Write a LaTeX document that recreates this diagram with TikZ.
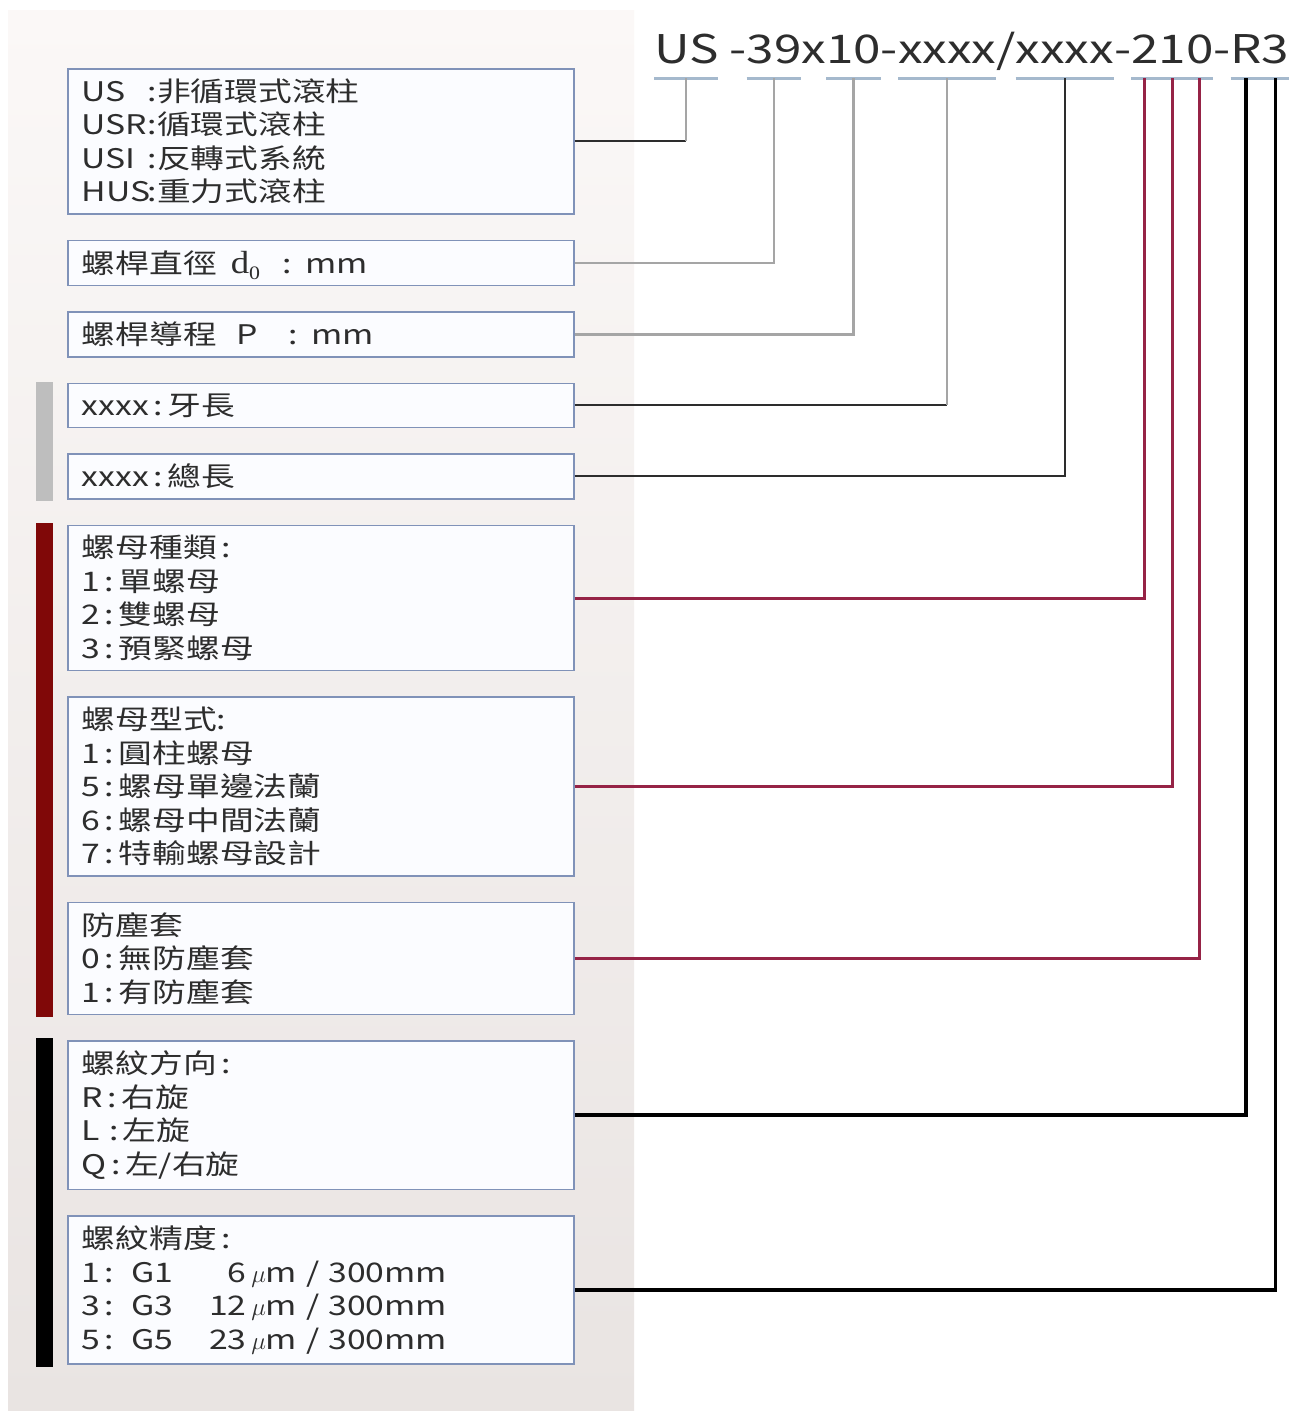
\documentclass[tikz,border=0pt]{standalone}
\usepackage[no-math]{fontspec}
\setmainfont[FakeStretch=1.25]{Noto Sans CJK TC}
\newfontfamily\serifd[FakeStretch=1.15]{Liberation Serif}
\usepackage{tikz}
\usetikzlibrary{positioning,calc}
\definecolor{BoxBlue}{RGB}{128,146,184}
\definecolor{BoxFill}{RGB}{251,252,255}
\definecolor{TextGray}{RGB}{45,45,45}
\definecolor{LineGray}{RGB}{165,165,165}
\definecolor{LineDark}{RGB}{45,45,45}
\definecolor{LineRed}{RGB}{150,35,70}
\definecolor{TickBlue}{RGB}{165,185,205}
\definecolor{BarGray}{RGB}{190,190,190}
\definecolor{BarRed}{RGB}{128,8,8}
\definecolor{PanelTop}{RGB}{251,248,247}
\definecolor{PanelBot}{RGB}{233,228,226}
\tikzset{
  box/.style={draw=BoxBlue,fill=BoxFill,line width=1.5pt,text width=478pt,inner xsep=14pt,inner ysep=10pt,align=left,text=TextGray,font=\fontsize{27}{33.5}\selectfont},
  code/.style={anchor=base west,inner sep=0pt,outer sep=0pt,text=TextGray,font=\fontsize{39.5}{45}\selectfont},
  tick/.style={draw=TickBlue,line width=3pt},
  gconn/.style={draw=LineGray,line width=2.5pt},
  dconn/.style={draw=LineDark,line width=2pt},
  rconn/.style={draw=LineRed,line width=3pt},
  kconn/.style={draw=black,line width=3.5pt},
}
\newcommand{\lab}[1]{\makebox[66pt][l]{#1}}

\begin{document}
\begin{tikzpicture}[x=1pt,y=-1pt,node distance=25pt]
  \fill[white] (0,0) rectangle (1288,1411);
  \useasboundingbox (0,0) rectangle (1288,1411);
  \shade[top color=PanelTop,bottom color=PanelBot] (8,10) rectangle (634,1411);

  % code line
  \node[code] (cUS) at (654,63) {US};
  \node[code] (k1) at (cUS.base east) {\ -};
  \node[code] (c39) at (k1.base east) {39};
  \node[code] (k2) at (c39.base east) {x};
  \node[code] (c10) at (k2.base east) {10};
  \node[code] (k3) at (c10.base east) {-};
  \node[code] (cTL) at (k3.base east) {xxxx};
  \node[code] (k4) at (cTL.base east) {/};
  \node[code] (cOL) at (k4.base east) {xxxx};
  \node[code] (k5) at (cOL.base east) {-};
  \node[code] (cNT) at (k5.base east) {2};
  \node[code] (cNF) at (cNT.base east) {1};
  \node[code] (cDC) at (cNF.base east) {0};
  \node[code] (k6) at (cDC.base east) {-};
  \node[code] (cDir) at (k6.base east) {R};
  \node[code] (cAcc) at (cDir.base east) {3};
  \foreach \c in {cUS,c39,c10,cTL,cOL,cNT,cNF,cDC,cDir,cAcc}{
    \draw[tick] ([yshift=-15pt]\c.base west) -- ([yshift=-15pt]\c.base east);
    \coordinate (t-\c) at ([yshift=-15pt]\c.base);
  }

  % legend boxes
  \node[box,anchor=north west] (b1) at (67,68)
    {\lab{US}:非循環式滾柱\\ \lab{USR}:循環式滾柱\\ \lab{USI}:反轉式系統\\ \lab{HUS}:重力式滾柱};
  \node[box,below=of b1] (b2) {螺桿直徑\hspace{14pt}{\serifd\fontsize{32}{32}\selectfont d\raisebox{-6pt}[0pt][0pt]{\fontsize{19}{19}\selectfont 0}}\hspace{22pt}:\hspace{14pt}mm};
  \node[box,below=of b2] (b3) {螺桿導程\hspace{20pt}P\hspace{30pt}:\hspace{14pt}mm};
  \node[box,below=of b3] (b4) {xxxx\,:\,牙長};
  \node[box,below=of b4] (b5) {xxxx\,:\,總長};
  \node[box,below=of b5] (b6) {螺母種類\,:\\ 1\,:\,單螺母\\ 2\,:\,雙螺母\\ 3\,:\,預緊螺母};
  \node[box,below=of b6] (b7) {螺母型式:\\ 1\,:\,圓柱螺母\\ 5\,:\,螺母單邊法蘭\\ 6\,:\,螺母中間法蘭\\ 7\,:\,特輸螺母設計};
  \node[box,below=of b7] (b8) {防塵套\\ 0\,:\,無防塵套\\ 1\,:\,有防塵套};
  \node[box,below=of b8] (b9) {螺紋方向\,:\\ R\,:\,右旋\\ L\ :\,左旋\\ Q\,:\,左/右旋};
  \node[box,below=of b9] (b10) {螺紋精度\,:\\
    \makebox[50pt][l]{1\,:}\makebox[40pt][l]{G1}\makebox[75pt][r]{6}\,$\mu$m / 300mm\\
    \makebox[50pt][l]{3\,:}\makebox[40pt][l]{G3}\makebox[75pt][r]{12}\,$\mu$m / 300mm\\
    \makebox[50pt][l]{5\,:}\makebox[40pt][l]{G5}\makebox[75pt][r]{23}\,$\mu$m / 300mm};

  % group bars
  \fill[BarGray] ([xshift=-31pt,yshift=1pt]b4.north west) rectangle ([xshift=-14pt,yshift=-1pt]b5.south west);
  \fill[BarRed] ([xshift=-31pt,yshift=2pt]b6.north west) rectangle ([xshift=-14pt,yshift=-2pt]b8.south west);
  \fill[black] ([xshift=-31pt,yshift=2pt]b9.north west) rectangle ([xshift=-14pt,yshift=-2pt]b10.south west);

  % connectors
  \draw[dconn] (b1.east) -- (b1.east -| t-cUS);
  \draw[gconn] (b1.east -| t-cUS) -- (t-cUS);
  \draw[gconn] (b2.east) -| (t-c39);
  \draw[gconn] (b3.east) -| (t-c10);
  \draw[dconn] (b4.east) -- (b4.east -| t-cTL);
  \draw[gconn] (b4.east -| t-cTL) -- (t-cTL);
  \draw[dconn] (b5.east) -| (t-cOL);
  \draw[rconn] (b6.east) -| (t-cNT);
  \draw[rconn] (b7.east) -| (t-cNF);
  \draw[rconn] (b8.east) -| (t-cDC);
  \draw[kconn] (b9.east) -| (t-cDir);
  \draw[kconn] (b10.east) -| (t-cAcc);
\end{tikzpicture}
\end{document}
